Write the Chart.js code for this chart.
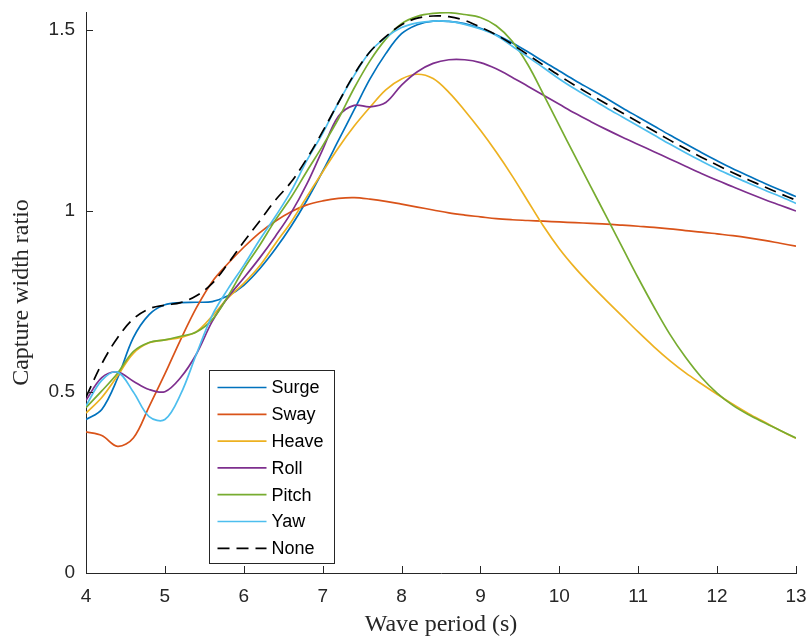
<!DOCTYPE html>
<html>
<head>
<meta charset="utf-8">
<script src="https://cdn.jsdelivr.net/npm/chart.js@4.4.1/dist/chart.umd.min.js"></script>
<style>
  html, body { margin: 0; padding: 0; background: #fff; }
  #wrap { width: 812px; height: 640px; }
</style>
</head>
<body>
<div id="wrap"><canvas id="cwrChart" width="812" height="640"></canvas></div>
<script>
// wave period (s), 0.2 s steps
const periods = [4, 4.2, 4.4, 4.6, 4.8, 5, 5.2, 5.4, 5.6, 5.8,
  6, 6.2, 6.4, 6.6, 6.8, 7, 7.2, 7.4, 7.6, 7.8,
  8, 8.2, 8.4, 8.6, 8.8, 9, 9.2, 9.4, 9.6, 9.8,
  10, 10.2, 10.4, 10.6, 10.8, 11, 11.2, 11.4, 11.6, 11.8,
  12, 12.2, 12.4, 12.6, 12.8, 13];

// capture width ratio, one array per constrained mode
const surge = [0.424, 0.452, 0.538, 0.65, 0.714, 0.741, 0.747, 0.748, 0.75, 0.766,
  0.795, 0.84, 0.895, 0.958, 1.03, 1.11, 1.195, 1.28, 1.365, 1.435,
  1.49, 1.515, 1.525, 1.524, 1.518, 1.505, 1.487, 1.465, 1.44, 1.413,
  1.387, 1.361, 1.336, 1.311, 1.285, 1.26, 1.235, 1.21, 1.186, 1.162,
  1.139, 1.117, 1.097, 1.077, 1.058, 1.04];
const sway = [0.39, 0.38, 0.35, 0.373, 0.46, 0.55, 0.645, 0.733, 0.805, 0.855,
  0.9, 0.94, 0.972, 0.998, 1.017, 1.028, 1.035, 1.037, 1.033, 1.027,
  1.019, 1.011, 1.003, 0.995, 0.989, 0.984, 0.979, 0.976, 0.974, 0.972,
  0.97, 0.968, 0.966, 0.964, 0.961, 0.958, 0.955, 0.951, 0.946, 0.942,
  0.937, 0.932, 0.926, 0.919, 0.911, 0.903];
const heave = [0.442, 0.485, 0.545, 0.607, 0.636, 0.644, 0.651, 0.667, 0.71, 0.76,
  0.8, 0.848, 0.91, 0.97, 1.04, 1.108, 1.175, 1.235, 1.287, 1.335,
  1.365, 1.378, 1.366, 1.328, 1.278, 1.223, 1.163, 1.098, 1.028, 0.958,
  0.896, 0.843, 0.796, 0.752, 0.709, 0.666, 0.625, 0.587, 0.553, 0.523,
  0.494, 0.466, 0.44, 0.417, 0.394, 0.372];
const roll = [0.477, 0.54, 0.555, 0.53, 0.507, 0.501, 0.54, 0.605, 0.695, 0.762,
  0.815, 0.87, 0.93, 0.995, 1.075, 1.17, 1.262, 1.292, 1.288, 1.3,
  1.348, 1.385, 1.408, 1.418, 1.418, 1.41, 1.393, 1.37, 1.345, 1.32,
  1.295, 1.27, 1.247, 1.225, 1.204, 1.184, 1.164, 1.144, 1.124, 1.104,
  1.085, 1.067, 1.049, 1.032, 1.016, 1.0];
const pitch = [0.457, 0.503, 0.552, 0.612, 0.637, 0.644, 0.654, 0.666, 0.7, 0.765,
  0.84, 0.905, 0.975, 1.038, 1.11, 1.18, 1.255, 1.34, 1.415, 1.475,
  1.518, 1.538, 1.546, 1.548, 1.543, 1.535, 1.512, 1.47, 1.405, 1.322,
  1.236, 1.151, 1.067, 0.983, 0.899, 0.815, 0.735, 0.66, 0.596, 0.541,
  0.497, 0.463, 0.437, 0.415, 0.394, 0.373];
const yaw = [0.462, 0.532, 0.555, 0.5, 0.432, 0.424, 0.494, 0.605, 0.712, 0.785,
  0.85, 0.92, 0.985, 1.055, 1.14, 1.215, 1.3, 1.375, 1.44, 1.48,
  1.507, 1.52, 1.525, 1.524, 1.516, 1.503, 1.485, 1.456, 1.426, 1.396,
  1.365, 1.337, 1.311, 1.285, 1.26, 1.235, 1.21, 1.185, 1.161, 1.138,
  1.116, 1.096, 1.077, 1.058, 1.04, 1.021];
const none = [0.486, 0.578, 0.65, 0.702, 0.73, 0.74, 0.747, 0.766, 0.8, 0.855,
  0.915, 0.972, 1.03, 1.08, 1.145, 1.22, 1.3, 1.378, 1.44, 1.482,
  1.515, 1.533, 1.539, 1.537, 1.527, 1.508, 1.487, 1.461, 1.432, 1.403,
  1.374, 1.347, 1.321, 1.296, 1.271, 1.246, 1.221, 1.196, 1.172, 1.149,
  1.127, 1.106, 1.086, 1.067, 1.048, 1.03];

const seriesNames = ['Surge', 'Sway', 'Heave', 'Roll', 'Pitch', 'Yaw', 'None'];
const seriesValues = [surge, sway, heave, roll, pitch, yaw, none];
const seriesColors = ['#0072BD', '#D95319', '#EDB120', '#7E2F8E', '#77AC30', '#4DBEEE', '#000000'];
const yTickValues = [0, 0.5, 1, 1.5];

const axisColor = '#262626';
const sansFont = "'Liberation Sans', Arial, sans-serif";
const serifFont = "'Liberation Serif', 'DejaVu Serif', serif";

const datasets = seriesNames.map((name, i) => ({
  label: name,
  data: periods.map((p, j) => ({ x: p, y: seriesValues[i][j] })),
  borderColor: seriesColors[i],
  backgroundColor: seriesColors[i],
  borderWidth: 1.7,
  borderDash: name === 'None' ? [12, 7] : [],
  pointRadius: 0,
  tension: 0.35,
  fill: false,
  order: seriesNames.length - i   // later series on top, like matlab
}));

// inward tick marks
const inwardTicks = {
  id: 'inwardTicks',
  afterDraw(chart) {
    const ctx = chart.ctx;
    const xs = chart.scales.x, ys = chart.scales.y;
    const area = chart.chartArea;
    ctx.save();
    ctx.strokeStyle = axisColor;
    ctx.lineWidth = 1;
    xs.ticks.forEach(t => {
      const px = Math.round(xs.getPixelForValue(t.value)) + 0.5;
      ctx.beginPath();
      ctx.moveTo(px, area.bottom);
      ctx.lineTo(px, area.bottom - 7);
      ctx.stroke();
    });
    ys.ticks.forEach(t => {
      const py = Math.round(ys.getPixelForValue(t.value)) + 0.5;
      ctx.beginPath();
      ctx.moveTo(area.left, py);
      ctx.lineTo(area.left + 7, py);
      ctx.stroke();
    });
    ctx.restore();
  }
};

// legend box inside the axes, lower left
const boxLegend = {
  id: 'boxLegend',
  afterDraw(chart) {
    const ctx = chart.ctx;
    const area = chart.chartArea;
    const left = area.left + 123.5, top = area.bottom - 202.5;
    const w = 125, rowH = 26.8, h = 193;
    ctx.save();
    ctx.fillStyle = '#fff';
    ctx.fillRect(left, top, w, h);
    ctx.strokeStyle = axisColor;
    ctx.lineWidth = 1;
    ctx.strokeRect(left, top, w, h);
    ctx.font = '18px ' + sansFont;
    ctx.textBaseline = 'middle';
    chart.data.datasets.forEach((ds, i) => {
      const cy = top + 17 + i * rowH;
      ctx.beginPath();
      ctx.strokeStyle = ds.borderColor;
      ctx.lineWidth = 1.7;
      ctx.setLineDash(ds.borderDash || []);
      ctx.moveTo(left + 8, cy);
      ctx.lineTo(left + 57, cy);
      ctx.stroke();
      ctx.setLineDash([]);
      ctx.fillStyle = '#000';
      ctx.fillText(ds.label, left + 62, cy + 1);
    });
    ctx.restore();
  }
};

new Chart(document.getElementById('cwrChart').getContext('2d'), {
  type: 'line',
  data: { datasets: datasets },
  options: {
    responsive: false,
    animation: false,
    layout: { padding: { top: 12, right: 16, left: 0, bottom: 0 } },
    plugins: { legend: { display: false }, tooltip: { enabled: false } },
    scales: {
      x: {
        type: 'linear',
        min: 4,
        max: 13,
        grid: { display: false, drawTicks: false },
        border: { display: true, color: axisColor, width: 1 },
        ticks: { stepSize: 1, padding: 12, color: axisColor, font: { family: sansFont, size: 19 } },
        title: { display: true, text: 'Wave period (s)', color: axisColor, font: { family: serifFont, size: 24 }, padding: { top: 0, bottom: 1 } },
        afterFit(scale) { scale.height = 67; scale.paddingLeft = 0; scale.paddingRight = 0; }
      },
      y: {
        type: 'linear',
        min: 0,
        max: 1.55,
        afterBuildTicks(scale) { scale.ticks = yTickValues.map(v => ({ value: v })); },
        grid: { display: false, drawTicks: false },
        border: { display: true, color: axisColor, width: 1 },
        ticks: { padding: 11, color: axisColor, font: { family: sansFont, size: 19 }, callback: v => String(v) },
        title: { display: true, text: 'Capture width ratio', color: axisColor, font: { family: serifFont, size: 24 }, padding: { top: 7, bottom: 0 } },
        afterFit(scale) { scale.width = 86; scale.paddingTop = 0; scale.paddingBottom = 0; }
      }
    }
  },
  plugins: [inwardTicks, boxLegend]
});
</script>
</body>
</html>
